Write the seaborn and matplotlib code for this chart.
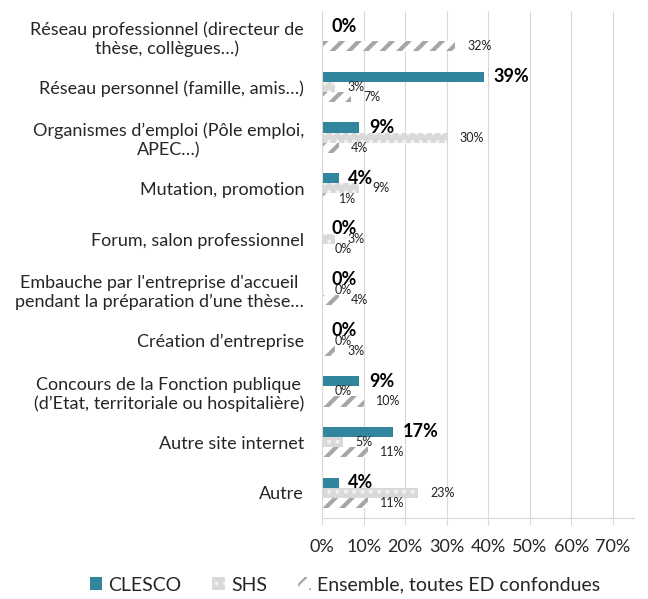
import numpy as np
import pandas as pd
import matplotlib
matplotlib.use("Agg")
import matplotlib.pyplot as plt
import seaborn as sns
from matplotlib.patches import Patch

#%% DATA
categories = [
    "Réseau professionnel (directeur de\nthèse, collègues…)",
    "Réseau personnel (famille, amis…)",
    "Organismes d’emploi (Pôle emploi,\nAPEC…)",
    "Mutation, promotion",
    "Forum, salon professionnel",
    "Embauche par l'entreprise d'accueil\npendant la préparation d’une thèse…",
    "Création d’entreprise",
    "Concours de la Fonction publique\n(d’Etat, territoriale ou hospitalière)",
    "Autre site internet",
    "Autre",
]
series = ["CLESCO", "SHS", "Ensemble, toutes ED confondues"]
clesco = [0, 39, 9, 4, 0, 0, 0, 9, 17, 4]
shs = [np.nan, 3, 30, 9, 3, 0, 0, 0, 5, 23]   # no SHS value for the first one
ensemble = [32, 7, 4, 1, 0, 4, 3, 10, 11, 11]
xticks = [0, 10, 20, 30, 40, 50, 60, 70]

df = pd.DataFrame({
    "cat": categories * 3,
    "serie": [s for s in series for _ in categories],
    "val": clesco + shs + ensemble,
})
df["val"] = df["val"].fillna(0)

#%% PLOT
sns.set_style("white")
plt.rcParams['font.family'] = ['Lato', 'DejaVu Sans']
plt.rcParams['hatch.linewidth'] = 1.6

fig = plt.figure(figsize=(6.48, 5.99), dpi=100)
ax = fig.add_axes([0.497, 0.135, 0.481, 0.847])

sns.barplot(data=df, x="val", y="cat", hue="serie", orient="h",
            hue_order=series, order=categories, width=0.6,
            palette=["#31859c", "#d9d9d9", "white"], legend=False, ax=ax)

# styles for each series
styles = [
    dict(face="#31859c", edge="#31859c", hatch=None, hlw=None),
    dict(face="#d9d9d9", edge="#f2f2f2", hatch="..", hlw=1.6),
    dict(face="white", edge="#a6a6a6", hatch="//", hlw=3.0),
]
for cont, st in zip(ax.containers, styles):
    for p in cont:
        p.set_facecolor(st["face"])
        p.set_edgecolor(st["edge"])
        p.set_linewidth(0)
        if st["hatch"]:
            p.set_hatch(st["hatch"])
            if hasattr(p, "set_hatch_linewidth"):
                p.set_hatch_linewidth(st["hlw"])

# data labels
data_vals = [clesco, shs, ensemble]
for i, (cont, vals) in enumerate(zip(ax.containers, data_vals)):
    labs = ["" if np.isnan(v) else f"{v:.0f}%" for v in vals]
    if i == 0:
        ax.bar_label(cont, labels=labs, padding=7, fontsize=13,
                     fontweight="bold", color="black")
    else:
        ax.bar_label(cont, labels=labs, padding=9, fontsize=9,
                     color="#222222")

ax.set_xlim(0, 75)
ax.set_xticks(xticks)
ax.set_xticklabels([f"{t}%" for t in xticks], fontsize=13)
ax.set_xlabel("")
ax.set_ylabel("")
ax.tick_params(axis="y", length=0, labelsize=13, pad=13)
ax.tick_params(axis="x", length=5, color="#d9d9d9", direction="out",
               bottom=True, pad=10)
for lab in ax.get_yticklabels():
    lab.set_multialignment("center")

ax.grid(axis="x", color="#d9d9d9", linewidth=0.8)
ax.set_axisbelow(True)
for s in ["top", "right"]:
    ax.spines[s].set_visible(False)
ax.spines["bottom"].set_color("#d9d9d9")
ax.spines["left"].set_color("#d9d9d9")

handles = [
    Patch(facecolor="#31859c", edgecolor="#31859c", linewidth=0),
    Patch(facecolor="#d9d9d9", edgecolor="#f2f2f2", hatch="..", linewidth=0),
    Patch(facecolor="white", edgecolor="#a6a6a6", hatch="//", linewidth=0),
]
fig.legend(handles, series, loc="center", bbox_to_anchor=(0.532, 0.023),
           ncol=3, frameon=False, fontsize=14, handlelength=0.65,
           handleheight=0.65, columnspacing=1.6, handletextpad=0.3)

fig.savefig("out.png", dpi=100)
